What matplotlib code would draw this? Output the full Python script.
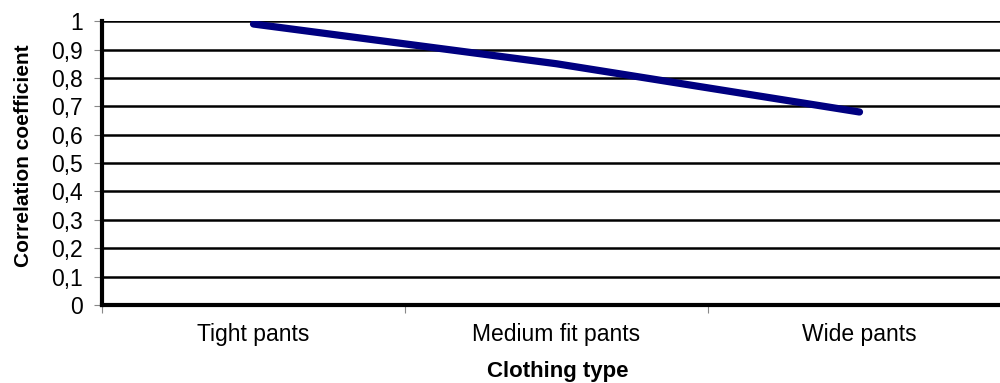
import matplotlib
matplotlib.use("Agg")
import matplotlib.pyplot as plt
import numpy as np

plt.rcParams['font.family'] = ['Liberation Sans', 'DejaVu Sans']

categories = ["Tight pants", "Medium fit pants", "Wide pants"]
correlation = [0.99, 0.85, 0.68]
y_ticks = [0, 0.1, 0.2, 0.3, 0.4, 0.5, 0.6, 0.7, 0.8, 0.9, 1.0]
y_tick_labels = ["0", "0,1", "0,2", "0,3", "0,4", "0,5", "0,6", "0,7", "0,8", "0,9", "1"]

fig = plt.figure(figsize=(10, 3.83), dpi=100)
ax = fig.add_axes([0.102, 0.2037, 0.909, 0.741])

x = np.arange(len(categories))
ax.plot(x, correlation, color="#000080", linewidth=5.2, solid_capstyle="round", zorder=3)

ax.set_xlim(-0.5, len(categories) - 0.5)
ax.set_ylim(0, 1)

ax.set_yticks(y_ticks)
ax.set_yticklabels(y_tick_labels, fontsize=16.5)
ax.yaxis.grid(True, color="black", linewidth=1.8)
ax.set_axisbelow(True)

ax.set_xticks(x)
ax.set_xticklabels(categories, fontsize=16.5)
ax.set_xticks(np.arange(-0.5, len(categories) + 0.5, 1), minor=True)
ax.tick_params(axis="x", which="major", length=0, pad=13)
ax.tick_params(axis="x", which="minor", length=6, width=0.8, color="#888888")
ax.tick_params(axis="y", length=6, width=0.8, color="#888888", pad=8)

for side in ("top", "right"):
    ax.spines[side].set_visible(False)
for side in ("left", "bottom"):
    ax.spines[side].set_linewidth(3)
    ax.spines[side].set_color("black")
    ax.spines[side].set_zorder(4)

ax.set_xlabel("Clothing type", fontsize=16, fontweight="bold")
ax.xaxis.set_label_coords(0.501, -0.236)
ax.xaxis.label.set_va("center")
ax.set_ylabel("Correlation coefficient", fontsize=15, fontweight="bold")
ax.yaxis.set_label_coords(-0.076, 0.525)

fig.savefig("out.png", dpi=100)
